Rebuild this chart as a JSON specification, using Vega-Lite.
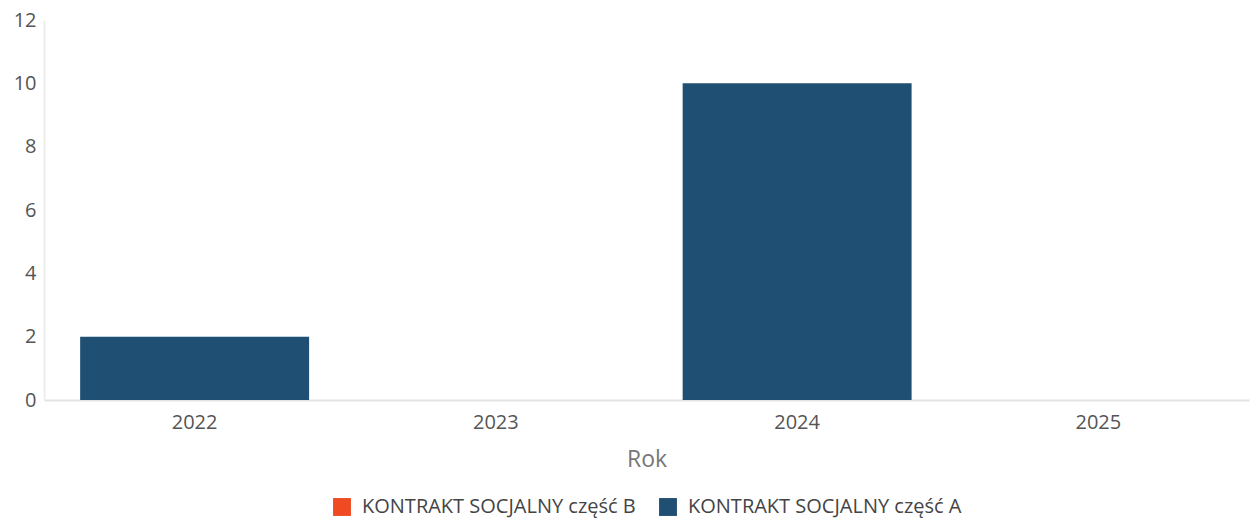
{
  "$schema": "https://vega.github.io/schema/vega-lite/v6.json",
  "width": 1205,
  "height": 380,
  "autosize": {"type": "none"},
  "padding": {"left": 44, "top": 20, "right": 7, "bottom": 119},
  "background": "white",
  "config": {
    "font": "Open Sans",
    "view": {"stroke": null},
    "legend": {"layout": {"bottom": {"anchor": "middle"}}}
  },
  "data": {
    "values": [
      {"Rok": "2022", "seria": "KONTRAKT SOCJALNY część B", "wartosc": 0},
      {"Rok": "2022", "seria": "KONTRAKT SOCJALNY część A", "wartosc": 2},
      {"Rok": "2023", "seria": "KONTRAKT SOCJALNY część B", "wartosc": 0},
      {"Rok": "2023", "seria": "KONTRAKT SOCJALNY część A", "wartosc": 0},
      {"Rok": "2024", "seria": "KONTRAKT SOCJALNY część B", "wartosc": 0},
      {"Rok": "2024", "seria": "KONTRAKT SOCJALNY część A", "wartosc": 10},
      {"Rok": "2025", "seria": "KONTRAKT SOCJALNY część B", "wartosc": 0},
      {"Rok": "2025", "seria": "KONTRAKT SOCJALNY część A", "wartosc": 0}
    ]
  },
  "mark": {"type": "bar"},
  "encoding": {
    "x": {
      "field": "Rok",
      "type": "ordinal",
      "scale": {"paddingInner": 0.24, "paddingOuter": 0.12},
      "axis": {
        "title": "Rok",
        "labelAngle": 0,
        "labelFontSize": 20,
        "labelColor": "#555555",
        "labelPadding": 12,
        "ticks": false,
        "domainColor": "#e3e3e3",
        "domainWidth": 2,
        "titleFontSize": 23,
        "titleFontWeight": "normal",
        "titleColor": "#777777",
        "titlePadding": 16
      }
    },
    "y": {
      "field": "wartosc",
      "type": "quantitative",
      "stack": "zero",
      "scale": {"domain": [0, 12]},
      "axis": {
        "title": null,
        "values": [0, 2, 4, 6, 8, 10, 12],
        "grid": false,
        "ticks": false,
        "labelFontSize": 20,
        "labelColor": "#555555",
        "labelPadding": 8,
        "domainColor": "#eeeeee",
        "domainWidth": 2
      }
    },
    "color": {
      "field": "seria",
      "type": "nominal",
      "scale": {
        "domain": ["KONTRAKT SOCJALNY część B", "KONTRAKT SOCJALNY część A"],
        "range": ["#f04a23", "#1f4f72"]
      },
      "legend": {
        "title": null,
        "orient": "bottom",
        "direction": "horizontal",
        "symbolType": "square",
        "symbolSize": 320,
        "symbolStrokeWidth": 0,
        "labelFontSize": 20,
        "labelLimit": 0,
        "labelOffset": 10,
        "labelColor": "#444444",
        "columnPadding": 22,
        "offset": 26
      }
    },
    "order": {"field": "seria", "sort": "descending"}
  }
}
